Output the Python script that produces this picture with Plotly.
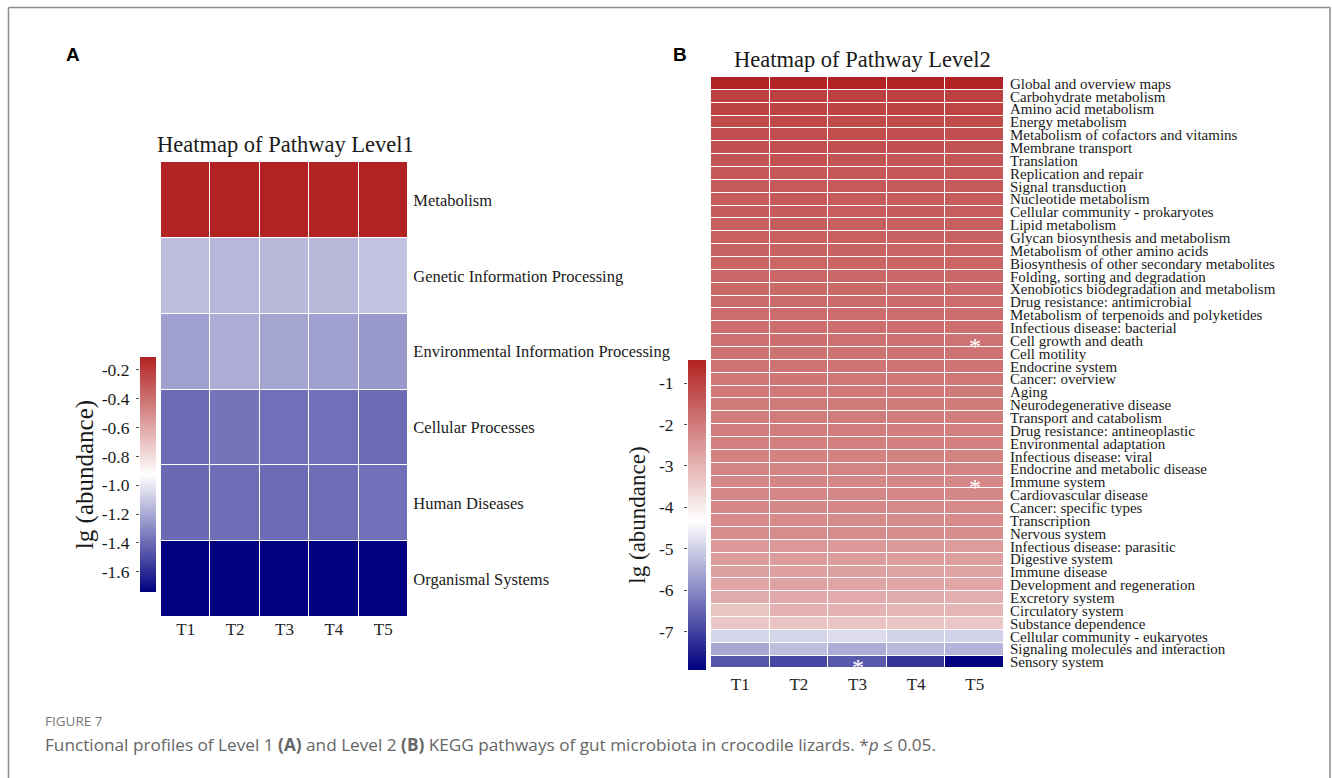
import numpy as np
import plotly.graph_objects as go

# ---------------- data ----------------
samples = ["T1", "T2", "T3", "T4", "T5"]

level1_paths = ["Metabolism", "Genetic Information Processing",
                "Environmental Information Processing", "Cellular Processes",
                "Human Diseases", "Organismal Systems"]
level1_vals = [
    [-0.112, -0.110, -0.111, -0.112, -0.110],
    [-1.133, -1.155, -1.149, -1.149, -1.113],
    [-1.229, -1.187, -1.213, -1.229, -1.251],
    [-1.401, -1.369, -1.382, -1.382, -1.394],
    [-1.404, -1.389, -1.394, -1.389, -1.382],
    [-1.740, -1.735, -1.738, -1.740, -1.737],
]

level2_paths = [
    "Global and overview maps", "Carbohydrate metabolism", "Amino acid metabolism",
    "Energy metabolism", "Metabolism of cofactors and vitamins", "Membrane transport",
    "Translation", "Replication and repair", "Signal transduction", "Nucleotide metabolism",
    "Cellular community - prokaryotes", "Lipid metabolism", "Glycan biosynthesis and metabolism",
    "Metabolism of other amino acids", "Biosynthesis of other secondary metabolites",
    "Folding, sorting and degradation", "Xenobiotics biodegradation and metabolism",
    "Drug resistance: antimicrobial", "Metabolism of terpenoids and polyketides",
    "Infectious disease: bacterial", "Cell growth and death", "Cell motility",
    "Endocrine system", "Cancer: overview", "Aging", "Neurodegenerative disease",
    "Transport and catabolism", "Drug resistance: antineoplastic", "Environmental adaptation",
    "Infectious disease: viral", "Endocrine and metabolic disease", "Immune system",
    "Cardiovascular disease", "Cancer: specific types", "Transcription", "Nervous system",
    "Infectious disease: parasitic", "Digestive system", "Immune disease",
    "Development and regeneration", "Excretory system", "Circulatory system",
    "Substance dependence", "Cellular community - eukaryotes",
    "Signaling molecules and interaction", "Sensory system",
]
level2_vals = [
    [-0.44, -0.45, -0.44, -0.45, -0.46],
    [-0.97, -0.96, -0.97, -0.98, -0.99],
    [-1.04, -1.04, -1.03, -1.04, -1.06],
    [-1.16, -1.15, -1.16, -1.17, -1.18],
    [-1.21, -1.21, -1.20, -1.21, -1.23],
    [-1.25, -1.24, -1.25, -1.25, -1.27],
    [-1.32, -1.31, -1.32, -1.33, -1.34],
    [-1.39, -1.38, -1.38, -1.39, -1.40],
    [-1.42, -1.43, -1.43, -1.42, -1.44],
    [-1.44, -1.43, -1.44, -1.45, -1.45],
    [-1.47, -1.46, -1.48, -1.47, -1.49],
    [-1.51, -1.50, -1.51, -1.52, -1.52],
    [-1.54, -1.53, -1.54, -1.55, -1.56],
    [-1.59, -1.58, -1.59, -1.60, -1.61],
    [-1.62, -1.63, -1.62, -1.62, -1.64],
    [-1.65, -1.64, -1.66, -1.66, -1.67],
    [-1.69, -1.68, -1.69, -1.70, -1.71],
    [-1.72, -1.71, -1.73, -1.73, -1.74],
    [-1.75, -1.74, -1.75, -1.76, -1.77],
    [-1.78, -1.77, -1.78, -1.78, -1.80],
    [-1.81, -1.80, -1.81, -1.81, -1.87],
    [-1.84, -1.83, -1.84, -1.85, -1.86],
    [-1.88, -1.87, -1.88, -1.89, -1.90],
    [-1.92, -1.90, -1.91, -1.92, -1.94],
    [-1.95, -1.94, -1.95, -1.96, -1.97],
    [-1.98, -1.97, -1.98, -1.99, -2.00],
    [-2.02, -2.01, -2.02, -2.03, -2.04],
    [-2.05, -2.04, -2.05, -2.06, -2.07],
    [-2.08, -2.07, -2.08, -2.09, -2.10],
    [-2.12, -2.11, -2.12, -2.13, -2.14],
    [-2.15, -2.14, -2.15, -2.16, -2.17],
    [-2.18, -2.17, -2.18, -2.18, -2.24],
    [-2.21, -2.20, -2.21, -2.22, -2.23],
    [-2.24, -2.23, -2.24, -2.25, -2.26],
    [-2.27, -2.27, -2.28, -2.28, -2.29],
    [-2.30, -2.30, -2.31, -2.31, -2.32],
    [-2.56, -2.54, -2.56, -2.57, -2.58],
    [-2.59, -2.58, -2.59, -2.60, -2.62],
    [-2.68, -2.66, -2.68, -2.69, -2.71],
    [-2.74, -2.70, -2.72, -2.74, -2.77],
    [-2.86, -2.82, -2.84, -2.86, -2.90],
    [-3.27, -2.97, -3.00, -3.02, -3.04],
    [-3.33, -3.27, -3.29, -3.30, -3.33],
    [-4.91, -4.93, -4.82, -4.95, -4.98],
    [-5.56, -5.25, -5.50, -5.32, -5.39],
    [-6.73, -6.94, -6.66, -7.22, -7.93],
]

# significant cells (sample, pathway)
level2_sig = [("T5", "Cell growth and death"), ("T5", "Immune system"), ("T3", "Sensory system")]

# colour-scale midpoints (white)
level1_mid = -0.925
level2_mid = -4.33

level1_ticks = [-0.2, -0.4, -0.6, -0.8, -1.0, -1.2, -1.4, -1.6]
level1_ticktext = ["-0.2", "-0.4", "-0.6", "-0.8", "-1.0", "-1.2", "-1.4", "-1.6"]
level2_ticks = [-1, -2, -3, -4, -5, -6, -7]
level2_ticktext = ["-1", "-2", "-3", "-4", "-5", "-6", "-7"]

LOW, MIDC, HIGH = "#000080", "#FFFFFF", "#B22222"


def make_scale(frac_mid):
    return [[0.0, LOW], [frac_mid, MIDC], [1.0, HIGH]]


W, H = 1332, 778


def px(x):
    return x / W


def py(y):
    return 1 - y / H


SERIF = "Liberation Serif, Times New Roman, serif"
TXT = "#1a1a1a"

z1min = float(np.min(level1_vals)); z1max = float(np.max(level1_vals))
z2min = float(np.min(level2_vals)); z2max = float(np.max(level2_vals))
scale1 = make_scale((level1_mid - z1min) / (z1max - z1min))
scale2 = make_scale((level2_mid - z2min) / (z2max - z2min))

fig = go.Figure()

fig.add_trace(go.Heatmap(x=samples, y=level1_paths, z=level1_vals, zmin=z1min, zmax=z1max,
                         colorscale=scale1, showscale=False, xgap=1, ygap=1,
                         xaxis="x", yaxis="y"))
fig.add_trace(go.Heatmap(x=samples, y=level2_paths, z=level2_vals, zmin=z2min, zmax=z2max,
                         colorscale=scale2, showscale=False, xgap=1, ygap=1,
                         xaxis="x2", yaxis="y2"))

# colour bars drawn as thin heatmaps on their own axes
cb1 = np.linspace(z1min, z1max, 300)
fig.add_trace(go.Heatmap(x=[0], y=cb1, z=[[v] for v in cb1], zmin=z1min, zmax=z1max,
                         colorscale=scale1, showscale=False, xaxis="x3", yaxis="y3",
                         hoverinfo="skip"))
cb2 = np.linspace(z2min, z2max, 300)
fig.add_trace(go.Heatmap(x=[0], y=cb2, z=[[v] for v in cb2], zmin=z2min, zmax=z2max,
                         colorscale=scale2, showscale=False, xaxis="x4", yaxis="y4",
                         hoverinfo="skip"))

common_x = dict(showgrid=False, zeroline=False, showline=False, ticks="",
                tickfont=dict(family=SERIF, size=17, color="#222"))
common_y = dict(showgrid=False, zeroline=False, showline=False, side="right",
                autorange="reversed", ticks="outside",
                tickcolor="rgba(0,0,0,0)")

fig.update_layout(
    width=W, height=H, margin=dict(l=0, r=0, t=0, b=0),
    paper_bgcolor="white", plot_bgcolor="white", showlegend=False,
    xaxis=dict(domain=[px(161), px(408)], anchor="y", **common_x),
    yaxis=dict(domain=[py(617), py(162)], anchor="x", ticklen=1,
               tickmode="array", tickvals=level1_paths, ticktext=level1_paths,
               tickfont=dict(family=SERIF, size=16.5, color=TXT), **common_y),
    xaxis2=dict(domain=[px(711), px(1004)], anchor="y2", **common_x),
    yaxis2=dict(domain=[py(672), py(77)], anchor="x2", ticklen=2,
                tickmode="array", tickvals=level2_paths, ticktext=level2_paths,
                tickfont=dict(family=SERIF, size=15, color=TXT), **common_y),
    xaxis3=dict(domain=[px(140), px(156)], anchor="y3", visible=False, range=[-0.5, 0.5]),
    yaxis3=dict(domain=[py(592), py(357)], anchor="x3", range=[z1min, z1max],
                showgrid=False, zeroline=False, showline=False, side="left",
                tickvals=level1_ticks, ticktext=level1_ticktext, ticks="outside",
                ticklen=3, tickcolor="#555", ticklabelstandoff=3,
                tickfont=dict(family=SERIF, size=17.5, color=TXT),
                title=dict(text="lg (abundance)", standoff=1,
                           font=dict(family=SERIF, size=25, color=TXT))),
    xaxis4=dict(domain=[px(688), px(706)], anchor="y4", visible=False, range=[-0.5, 0.5]),
    yaxis4=dict(domain=[py(670), py(360)], anchor="x4", range=[z2min, z2max],
                showgrid=False, zeroline=False, showline=False, side="left",
                tickvals=level2_ticks, ticktext=level2_ticktext, ticks="outside",
                ticklen=3, tickcolor="#555", ticklabelstandoff=7,
                tickfont=dict(family=SERIF, size=17.5, color=TXT),
                title=dict(text="lg (abundance)", standoff=6,
                           font=dict(family=SERIF, size=23, color=TXT))),
)

ann = []
ann.append(dict(text="Heatmap of Pathway Level1", x=px(285), y=py(144), xref="paper", yref="paper",
                xanchor="center", yanchor="middle", showarrow=False,
                font=dict(family=SERIF, size=22.5, color=TXT)))
ann.append(dict(text="Heatmap of Pathway Level2", x=px(862), y=py(60), xref="paper", yref="paper",
                xanchor="center", yanchor="middle", showarrow=False,
                font=dict(family=SERIF, size=22.5, color=TXT)))
ann.append(dict(text="<b>A</b>", x=px(73), y=py(55), xref="paper", yref="paper",
                xanchor="center", yanchor="middle", showarrow=False,
                font=dict(family="Liberation Sans, Arial, sans-serif", size=19, color="black")))
ann.append(dict(text="<b>B</b>", x=px(680), y=py(55), xref="paper", yref="paper",
                xanchor="center", yanchor="middle", showarrow=False,
                font=dict(family="Liberation Sans, Arial, sans-serif", size=19, color="black")))
ann.append(dict(text="FIGURE 7", x=px(43), y=py(721), xref="paper", yref="paper",
                xanchor="left", yanchor="middle", showarrow=False,
                font=dict(family="Open Sans, sans-serif", size=13.5, color="#777")))
ann.append(dict(text="Functional profiles of Level 1 <b>(A)</b> and Level 2 <b>(B)</b> KEGG pathways "
                     "of gut microbiota in crocodile lizards. *<i>p</i> ≤ 0.05.",
                x=px(43), y=py(744), xref="paper", yref="paper",
                xanchor="left", yanchor="middle", showarrow=False,
                font=dict(family="Open Sans, sans-serif", size=17.2, color="#666")))
for s, p in level2_sig:
    ann.append(dict(text="*", x=samples.index(s), y=level2_paths.index(p), xref="x2", yref="y2",
                    xanchor="center", yanchor="middle", showarrow=False, yshift=-5,
                    font=dict(family=SERIF, size=24, color="white")))
fig.update_layout(annotations=ann)

# figure frame (open at bottom)
frame = dict(type="line", xref="paper", yref="paper", line=dict(color="#8c8c8c", width=1.5))
fig.update_layout(shapes=[
    dict(x0=px(8.5), x1=px(1330), y0=py(7.5), y1=py(7.5), **frame),
    dict(x0=px(8.5), x1=px(8.5), y0=py(7.5), y1=0, **frame),
    dict(x0=px(1330), x1=px(1330), y0=py(7.5), y1=0, **frame),
])

fig.write_html("out.html")
